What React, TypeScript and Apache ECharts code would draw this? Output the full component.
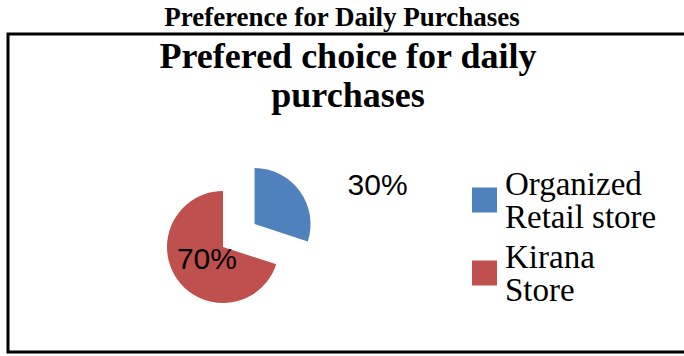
import React, { useEffect, useRef } from "react";
import * as echarts from "echarts";

const pageTitle = "Preference for Daily Purchases";
const chartTitle = "Prefered choice for daily\npurchases";
const categories = ["Organized Retail store", "Kirana Store"];
const legendLabels = ["Organized\nRetail store", "Kirana\nStore"];
const shares = [30, 70];
const colors = ["#4F81BD", "#C0504D"];
const labelShift = [
  [98, -21],
  [9, -7],
];

export default function App() {
  const ref = useRef<HTMLDivElement>(null);
  useEffect(() => {
    if (!ref.current) return;
    const chart = echarts.init(ref.current, null, { renderer: "svg" });
    const total = shares.reduce((a, b) => a + b, 0);
    chart.setOption({
      animation: false,
      backgroundColor: "#fff",
      title: [
        {
          text: pageTitle,
          left: 342,
          top: 3,
          textAlign: "center",
          padding: 0,
          textStyle: {
            fontFamily: "Liberation Serif",
            fontWeight: "bold",
            fontSize: 27,
            lineHeight: 28,
            color: "#000",
          },
        },
        {
          text: chartTitle,
          left: 348,
          top: 36,
          textAlign: "center",
          padding: 0,
          textStyle: {
            fontFamily: "Liberation Serif",
            fontWeight: "bold",
            fontSize: 36,
            lineHeight: 39,
            color: "#000",
          },
        },
      ],
      graphic: [
        {
          type: "rect",
          shape: { x: 8, y: 34, width: 700, height: 318 },
          style: { fill: "none", stroke: "#000", lineWidth: 3 },
          silent: true,
        },
      ],
      legend: {
        orient: "vertical",
        left: 472,
        top: 167,
        padding: 0,
        itemWidth: 25,
        itemHeight: 25,
        itemGap: 7,
        icon: "rect",
        selectedMode: false,
        data: categories,
        formatter: (name: string) => legendLabels[categories.indexOf(name)],
        textStyle: {
          fontFamily: "Liberation Serif",
          fontSize: 33,
          lineHeight: 33,
          color: "#000",
          padding: [0, 0, 0, 3],
        },
      },
      series: [
        {
          type: "pie",
          center: [223, 247],
          radius: 56,
          startAngle: 90,
          clockwise: true,
          selectedMode: "single",
          selectedOffset: 39,
          emphasis: { disabled: true },
          labelLine: { show: false },
          label: {
            show: true,
            position: "inside",
            fontFamily: "Liberation Sans",
            fontSize: 30,
            color: "#000",
            formatter: (p: any) => Math.round((p.value / total) * 100) + "%",
          },
          labelLayout: (p: any) => ({
            dx: labelShift[p.dataIndex][0],
            dy: labelShift[p.dataIndex][1],
          }),
          data: categories.map((name, i) => ({
            name,
            value: shares[i],
            selected: i === 0,
            itemStyle: { color: colors[i] },
          })),
        },
      ],
    });
    return () => chart.dispose();
  }, []);
  return (
    <div
      ref={ref}
      style={{ position: "absolute", left: 0, top: 0, width: 684, height: 356 }}
    />
  );
}
